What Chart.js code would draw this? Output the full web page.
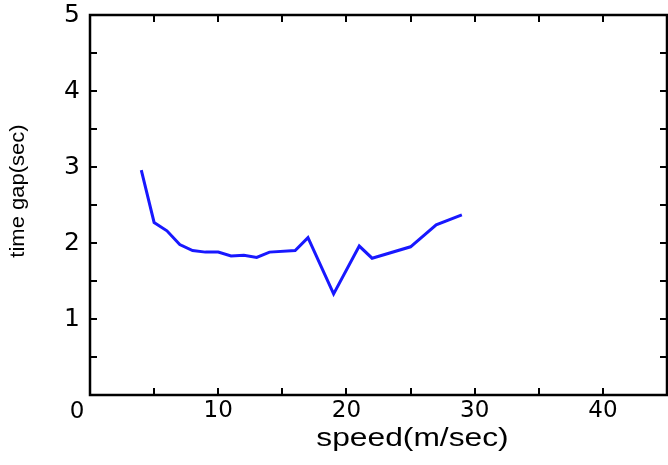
<!DOCTYPE html>
<html><head><meta charset="utf-8">
<script src="https://cdn.jsdelivr.net/npm/chart.js@4/dist/chart.umd.min.js"></script>
<style>html,body{margin:0;padding:0;background:#fff}#wrap{width:668px;height:465px;position:relative}</style>
</head><body><div id="wrap"><canvas id="c" width="668" height="465"></canvas></div>
<script>
const speeds = [4,5,6,7,8,9,10,11,12,13,14,16,17,19,21,22,25,27,29];
const timeGaps = [2.96,2.27,2.16,1.98,1.90,1.88,1.88,1.83,1.84,1.81,1.88,1.90,2.07,1.33,1.96,1.80,1.95,2.24,2.37];
const xTickLabels = ['0','10','20','30','40'];
const yTickLabels = ['1','2','3','4','5'];
const xTitle = 'speed(m/sec)';
const yTitle = 'time gap(sec)';

const FONT = "'Liberation Sans', Arial, Helvetica, sans-serif";
const TICKFONT = "'DejaVu Sans', sans-serif";
const points = speeds.map((s, i) => ({x: s, y: timeGaps[i]}));

const framePlugin = {
  id: 'frame',
  afterDraw(chart) {
    const ctx = chart.ctx, a = chart.chartArea;
    const xs = chart.scales.x, ys = chart.scales.y;
    const tl = 7;
    ctx.save();
    ctx.strokeStyle = '#000';
    ctx.lineWidth = 2.5;
    ctx.strokeRect(a.left, a.top, a.right - a.left, a.bottom - a.top);
    ctx.beginPath();
    ctx.lineWidth = 2;
    xs.ticks.forEach(t => {
      if (t.value <= xs.min || t.value >= xs.max) return;
      const px = Math.round(xs.getPixelForValue(t.value));
      ctx.moveTo(px, a.bottom); ctx.lineTo(px, a.bottom - tl);
      ctx.moveTo(px, a.top); ctx.lineTo(px, a.top + tl);
    });
    ys.ticks.forEach(t => {
      if (t.value <= ys.min || t.value >= ys.max) return;
      const py = Math.round(ys.getPixelForValue(t.value));
      ctx.moveTo(a.left, py); ctx.lineTo(a.left + tl, py);
      ctx.moveTo(a.right, py); ctx.lineTo(a.right - tl, py);
    });
    ctx.stroke();
    ctx.fillStyle = '#000';
    // origin label, same font as the x tick labels
    ctx.font = Chart.helpers.toFont(xs.options.ticks.font).string;
    ctx.textAlign = 'center';
    ctx.textBaseline = 'middle';
    ctx.fillText(xTickLabels[0], xs.getPixelForValue(0) - 13, a.bottom + 17);
    // x title (wide lettering as in the reference)
    ctx.save();
    ctx.translate((a.left + a.right) / 2 + 34, a.bottom + 51);
    ctx.scale(1.27, 1);
    ctx.font = "25px " + FONT;
    ctx.textBaseline = 'alphabetic';
    ctx.fillText(xTitle, 0, 0);
    ctx.restore();
    // y title
    ctx.save();
    ctx.translate(18, (a.top + a.bottom) / 2 - 14);
    ctx.rotate(-Math.PI / 2);
    ctx.scale(1.1, 1);
    ctx.font = "20px " + FONT;
    ctx.textBaseline = 'middle';
    ctx.fillText(yTitle, 0, 0);
    ctx.restore();
    ctx.restore();
  }
};

function noPad(s) { s.paddingTop = 0; s.paddingBottom = 0; s.paddingLeft = 0; s.paddingRight = 0; }

new Chart(document.getElementById('c'), {
  type: 'line',
  data: {
    datasets: [{
      data: points,
      borderColor: '#1818ff',
      borderWidth: 3,
      pointRadius: 0,
      fill: false,
      tension: 0
    }]
  },
  options: {
    responsive: false,
    animation: false,
    devicePixelRatio: 1,
    layout: {padding: {top: 15, right: 1, left: 0, bottom: 0}},
    plugins: {legend: {display: false}, tooltip: {enabled: false}},
    scales: {
      x: {
        type: 'linear', min: 0, max: 45,
        grid: {display: false, drawTicks: false},
        border: {display: false},
        ticks: {
          stepSize: 5, autoSkip: false, maxRotation: 0, padding: 2,
          color: '#000', font: {size: 23, family: TICKFONT},
          callback: v => (v !== 0 && xTickLabels.includes(String(v))) ? String(v) : ''
        },
        afterFit: s => { s.height = 70; noPad(s); }
      },
      y: {
        min: 0, max: 5,
        grid: {display: false, drawTicks: false},
        border: {display: false},
        ticks: {
          stepSize: 0.5, autoSkip: false, padding: 10,
          color: '#000', font: {size: 25, family: TICKFONT},
          callback: v => yTickLabels.includes(String(v)) ? String(v) : ''
        },
        afterFit: s => { s.width = 90; noPad(s); }
      }
    }
  },
  plugins: [framePlugin]
});
</script>
</body></html>
